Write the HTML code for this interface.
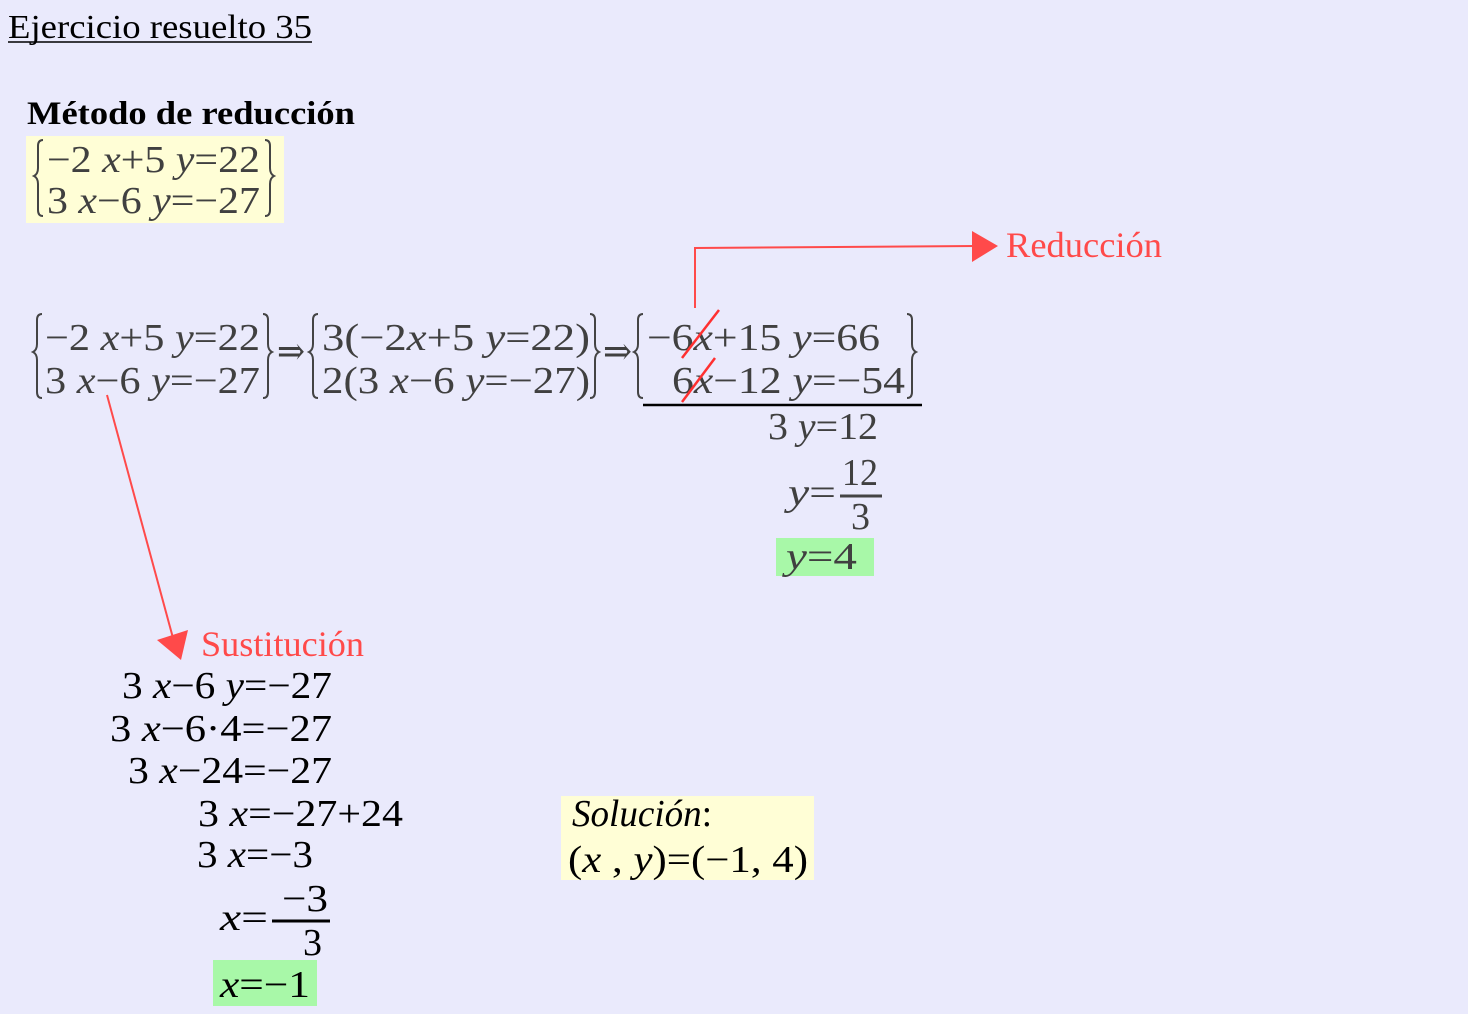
<!DOCTYPE html>
<html><head><meta charset="utf-8"><style>
html,body{margin:0;padding:0;background:#eaeafc;}
svg{display:block;font-family:"Liberation Serif","DejaVu Serif",serif;}
text,tspan{font-family:"Liberation Serif","DejaVu Serif",serif !important;}
.g{fill:#404040;font-size:38px;font-family:"Liberation Serif",serif;}
.k{fill:#000;font-size:38px;font-family:"Liberation Serif",serif;}
.r{fill:#ff4a4a;font-size:36px;}
.i{font-style:italic;}
</style></head><body>
<svg width="1468" height="1014" viewBox="0 0 1468 1014" xmlns="http://www.w3.org/2000/svg" font-family="Liberation Serif, serif">
<rect width="1468" height="1014" fill="#eaeafc"/>
<text x="8" y="38" font-size="34" fill="#000" textLength="304" lengthAdjust="spacingAndGlyphs">Ejercicio resuelto 35</text>
<line x1="8" y1="42" x2="312" y2="42" stroke="#000" stroke-width="1.5"/>
<text x="27" y="124" font-size="33" font-weight="bold" fill="#000" textLength="328" lengthAdjust="spacingAndGlyphs">Método de reducción</text>

<rect x="26" y="136" width="258" height="87" fill="#fffed6"/>
<g fill="none" stroke="#444" stroke-width="2">
<path d="M43,140 q-5,0 -5,6 v22 q0,6 -4,8 q4,2 4,8 v26 q0,6 5,6"/>
<path d="M265,140 q5,0 5,6 v22 q0,6 4,8 q-4,2 -4,8 v26 q0,6 -5,6"/>
<path d="M42,314 q-5,0 -5,6 v24 q0,6 -4,8 q4,2 4,8 v32 q0,6 5,6"/>
<path d="M263,314 q5,0 5,6 v24 q0,6 4,8 q-4,2 -4,8 v32 q0,6 -5,6"/>
<path d="M318,314 q-5,0 -5,6 v24 q0,6 -4,8 q4,2 4,8 v32 q0,6 5,6"/>
<path d="M590,314 q5,0 5,6 v24 q0,6 4,8 q-4,2 -4,8 v32 q0,6 -5,6"/>
<path d="M643,314 q-5,0 -5,6 v24 q0,6 -4,8 q4,2 4,8 v32 q0,6 5,6"/>
<path d="M907,314 q5,0 5,6 v24 q0,6 4,8 q-4,2 -4,8 v32 q0,6 -5,6"/>
</g>
<text class="g" x="47" y="172" textLength="213" lengthAdjust="spacingAndGlyphs">−2 <tspan class="i">x</tspan>+5 <tspan class="i">y</tspan>=22</text>
<text class="g" x="47" y="213" textLength="213" lengthAdjust="spacingAndGlyphs">3 <tspan class="i">x</tspan>−6 <tspan class="i">y</tspan>=−27</text>

<text class="g" x="45" y="350" textLength="215" lengthAdjust="spacingAndGlyphs">−2 <tspan class="i">x</tspan>+5 <tspan class="i">y</tspan>=22</text>
<text class="g" x="45" y="393" textLength="215" lengthAdjust="spacingAndGlyphs">3 <tspan class="i">x</tspan>−6 <tspan class="i">y</tspan>=−27</text>
<text class="g" x="277" y="364" font-size="30" textLength="28" lengthAdjust="spacingAndGlyphs">⇒</text>
<text class="g" x="322" y="350" textLength="268" lengthAdjust="spacingAndGlyphs">3(−2<tspan class="i">x</tspan>+5 <tspan class="i">y</tspan>=22)</text>
<text class="g" x="322" y="393" textLength="268" lengthAdjust="spacingAndGlyphs">2(3 <tspan class="i">x</tspan>−6 <tspan class="i">y</tspan>=−27)</text>
<text class="g" x="603" y="364" font-size="30" textLength="29" lengthAdjust="spacingAndGlyphs">⇒</text>
<text class="g" x="647" y="350" textLength="233" lengthAdjust="spacingAndGlyphs">−6<tspan class="i">x</tspan>+15 <tspan class="i">y</tspan>=66</text>
<text class="g" x="672" y="393" textLength="233" lengthAdjust="spacingAndGlyphs">6<tspan class="i">x</tspan>−12 <tspan class="i">y</tspan>=−54</text>
<line x1="643" y1="405" x2="922" y2="405" stroke="#000" stroke-width="2.5"/>
<g stroke="#ff3030" stroke-width="2.5">
<line x1="682" y1="358" x2="719" y2="310"/>
<line x1="682" y1="402" x2="715" y2="358"/>
</g>
<text class="g" x="768" y="439" textLength="110" lengthAdjust="spacingAndGlyphs">3 <tspan class="i">y</tspan>=12</text>
<text class="g" x="788" y="505" textLength="48" lengthAdjust="spacingAndGlyphs"><tspan class="i">y</tspan>=</text>
<text class="g" x="842" y="485" textLength="36" lengthAdjust="spacingAndGlyphs">12</text>
<line x1="840" y1="496" x2="882" y2="496" stroke="#444" stroke-width="3"/>
<text class="g" x="851" y="529">3</text>
<rect x="776" y="538" width="98" height="38" fill="#a8f8a8"/>
<text class="g" x="786" y="569" textLength="71" lengthAdjust="spacingAndGlyphs"><tspan class="i">y</tspan>=4</text>

<g stroke="#ff4a4a" stroke-width="2" fill="none">
<polyline points="695,308 695,248 976,246"/>
<line x1="107" y1="395" x2="173" y2="638"/>
</g>
<polygon points="972,231 998,246 972,262" fill="#ff4a4a"/>
<polygon points="157,640 188,630 181,660" fill="#ff4a4a"/>
<text class="r" x="1006" y="257" textLength="156" lengthAdjust="spacingAndGlyphs">Reducción</text>
<text class="r" x="201" y="656" textLength="163" lengthAdjust="spacingAndGlyphs">Sustitución</text>

<text class="k" x="122" y="698" textLength="210" lengthAdjust="spacingAndGlyphs">3 <tspan class="i">x</tspan>−6 <tspan class="i">y</tspan>=−27</text>
<text class="k" x="110" y="741" textLength="222" lengthAdjust="spacingAndGlyphs">3 <tspan class="i">x</tspan>−6·4=−27</text>
<text class="k" x="128" y="783" textLength="204" lengthAdjust="spacingAndGlyphs">3 <tspan class="i">x</tspan>−24=−27</text>
<text class="k" x="198" y="826" textLength="205" lengthAdjust="spacingAndGlyphs">3 <tspan class="i">x</tspan>=−27+24</text>
<text class="k" x="197" y="867" textLength="116" lengthAdjust="spacingAndGlyphs">3 <tspan class="i">x</tspan>=−3</text>
<text class="k" x="220" y="930" textLength="48" lengthAdjust="spacingAndGlyphs"><tspan class="i">x</tspan>=</text>
<text class="k" x="282" y="911" textLength="46" lengthAdjust="spacingAndGlyphs">−3</text>
<line x1="272" y1="921" x2="330" y2="921" stroke="#000" stroke-width="3"/>
<text class="k" x="303" y="955">3</text>
<rect x="213" y="960" width="104" height="46" fill="#a8f8a8"/>
<text class="k" x="220" y="997" textLength="90" lengthAdjust="spacingAndGlyphs"><tspan class="i">x</tspan>=−1</text>

<rect x="561" y="796" width="253" height="84" fill="#fffed6"/>
<text class="k" x="572" y="826" textLength="140" lengthAdjust="spacingAndGlyphs"><tspan class="i">Solución</tspan>:</text>
<text class="k" x="568" y="872" textLength="240" lengthAdjust="spacingAndGlyphs">(<tspan class="i">x</tspan> , <tspan class="i">y</tspan>)=(−1, 4)</text>
</svg>
</body></html>
